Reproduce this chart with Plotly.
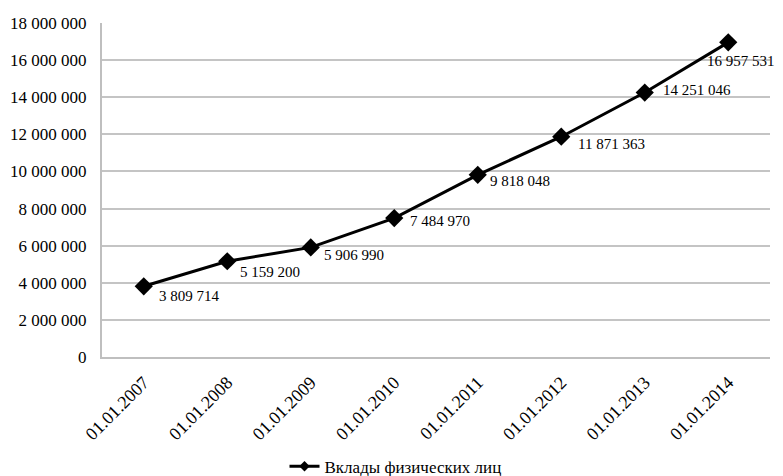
import plotly.graph_objects as go

dates = ["01.01.2007", "01.01.2008", "01.01.2009", "01.01.2010",
         "01.01.2011", "01.01.2012", "01.01.2013", "01.01.2014"]
deposits = [3809714, 5159200, 5906990, 7484970, 9818048, 11871363, 14251046, 16957531]
series_name = "Вклады физических лиц"

# label offsets from each point, in pixels (right, down)
label_dx = [46, 43, 43, 46, 42, 50, 52, 13]
label_dy = [10, 11, 8, 3, 6, 7, -3, 19]

font_family = "Liberation Serif, Times New Roman, serif"

fig = go.Figure()
fig.add_trace(go.Scatter(
    x=dates, y=deposits, name=series_name,
    mode="lines+markers",
    line=dict(color="black", width=3),
    marker=dict(symbol="diamond", size=14, color="black"),
    showlegend=False,
))
# legend entry with a small diamond, as in the original
fig.add_trace(go.Scatter(
    x=[dates[0]], y=[None], name=series_name,
    mode="lines+markers",
    line=dict(color="black", width=3),
    marker=dict(symbol="diamond", size=8, color="black"),
    showlegend=True, hoverinfo="skip",
))

def fmt(v):
    return f"{v:,}".replace(",", " ")

for d, v, dx, dy in zip(dates, deposits, label_dx, label_dy):
    fig.add_annotation(x=d, y=v, text=fmt(v), showarrow=False,
                       xanchor="center", yanchor="middle",
                       xshift=dx, yshift=-dy,
                       font=dict(family=font_family, size=15, color="black"))

# page body has an 8px margin, so the figure is 8px smaller than the window
fig.update_layout(
    width=775, height=468,
    margin=dict(l=94, r=13, t=15, b=119, autoexpand=False),
    paper_bgcolor="white", plot_bgcolor="white",
    separators=", ",
    font=dict(family=font_family, size=16, color="black"),
    showlegend=True,
    legend=dict(orientation="h", xref="container", yref="container",
                x=0.50, xanchor="center", y=0.02, yanchor="middle",
                font=dict(family=font_family, size=17, color="black")),
    xaxis=dict(type="category", categoryorder="array", categoryarray=dates,
               range=[-0.5, len(dates) - 0.5],
               tickangle=-45, showgrid=False, automargin=False,
               showline=True, linecolor="#bfbfbf", linewidth=2,
               ticks="outside", ticklen=6, tickcolor="white",
               tickfont=dict(size=18)),
    yaxis=dict(range=[0, 18000000], dtick=2000000, tickformat=",.0f", automargin=False,
               showgrid=True, gridcolor="#c4c4c4", gridwidth=2,
               showline=True, linecolor="#bfbfbf", linewidth=2,
               zeroline=False, ticks="outside", ticklen=10, tickcolor="white",
               tickfont=dict(size=17)),
)

fig.write_html("out.html")
